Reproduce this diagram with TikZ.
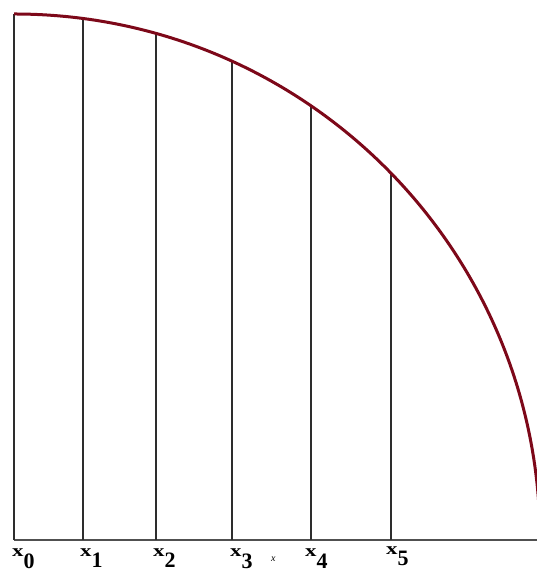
\documentclass[tikz,border=0pt]{standalone}
\usepackage{fontspec}
\setmainfont{Liberation Serif}
\definecolor{arccol}{RGB}{125,8,25}
\definecolor{linecol}{RGB}{45,45,45}
\definecolor{axiscol}{RGB}{80,80,80}
\begin{document}
\begin{tikzpicture}[x=1pt,y=1pt,
  vline/.style={draw=linecol,line width=1.8pt},
  axis/.style={draw=axiscol,line width=1.4pt},
  curve/.style={draw=arccol,line width=3pt},
  lab/.style={anchor=base west,inner sep=0pt,font=\bfseries\fontsize{17}{17}\selectfont},
  smallx/.style={anchor=base west,inner sep=0pt,font=\itshape\fontsize{10}{10}\selectfont}]
\useasboundingbox (0,0) rectangle (537,572);
\begin{scope}
\clip (0,0) rectangle (537,572);
\coordinate (O) at (14,32);
\coordinate (E) at (537,32);
\coordinate (T) at (14,558);
\draw[axis] (O) -- (E);
\draw[vline] (O) -- (T);
\foreach \n/\x/\y in {1/83/553.45,2/156/538.47,3/232/510.70,4/311/466.13,5/391/398.81}{
  \coordinate (b\n) at (\x,32);
  \coordinate (t\n) at (\x,\y);
  \draw[vline] (b\n) -- (t\n);
}
\draw[curve] (T) arc[start angle=90,end angle=0,radius=526];
\end{scope}
\newcommand{\xlab}[1]{\scalebox{1.35}[1]{x}\raisebox{-11pt}{\fontsize{22}{22}\selectfont #1}}
\node[lab] (l0) at (12,15) {\xlab{0}};
\node[lab] (l1) at (80,16) {\xlab{1}};
\node[lab] (l2) at (153,16) {\xlab{2}};
\node[lab] (l3) at (230,15) {\xlab{3}};
\node[lab] (l4) at (305,15) {\xlab{4}};
\node[lab] (l5) at (386,17) {\xlab{5}};
\node[smallx] (sx) at (271,10) {x};
\end{tikzpicture}
\end{document}
